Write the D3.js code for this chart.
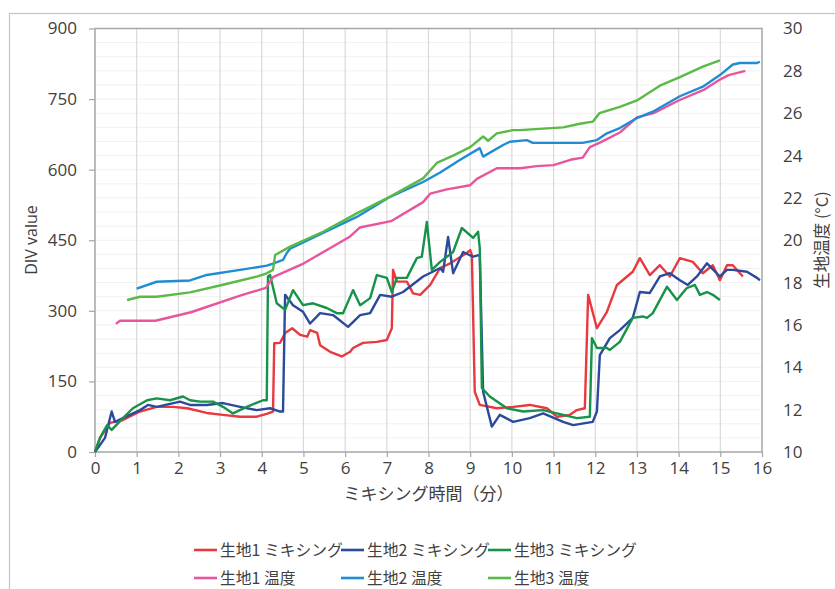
<!DOCTYPE html>
<html>
<head>
<meta charset="utf-8">
<script src="https://cdn.jsdelivr.net/npm/d3@7"></script>
<style>
  body { margin: 0; background: #fff; }
  text { font-family: "Noto Sans CJK JP", "Noto Sans", sans-serif; fill: #404040; }
  .tick text, .latin { font-family: "Open Sans", "Noto Sans", sans-serif; }
</style>
</head>
<body>
<div id="chart"></div>
<script>
// time (min) / value pairs
const mix1 = [[0,0],[0.12,30],[0.36,62],[0.67,68],[1.08,86],[1.48,96],[1.87,96],[2.21,93],[2.68,83],[3.07,79],[3.48,75],[3.88,75],[4.12,81],[4.27,86],[4.3,231],[4.44,232],[4.56,253],[4.73,263],[4.92,249],[5.09,245],[5.16,259],[5.33,253],[5.40,227],[5.64,213],[5.92,203],[6.12,213],[6.19,221],[6.43,232],[6.76,234],[7.00,238],[7.12,263],[7.15,387],[7.24,362],[7.48,362],[7.63,337],[7.80,334],[8.04,355],[8.28,391],[8.52,401],[8.92,423],[9.00,429],[9.04,419],[9.11,128],[9.23,100],[9.64,93],[10.03,96],[10.43,100],[10.84,93],[11.08,75],[11.39,79],[11.56,89],[11.75,93],[11.83,334],[12.04,263],[12.28,298],[12.52,355],[12.90,383],[13.07,412],[13.31,376],[13.55,397],[13.79,373],[14.03,412],[14.34,404],[14.58,380],[14.82,397],[14.99,365],[15.16,397],[15.30,397],[15.54,373]];
const mix2 = [[0,0],[0.24,30],[0.40,86],[0.48,64],[0.67,72],[1.08,89],[1.27,100],[1.48,96],[2.04,107],[2.28,100],[2.68,100],[3.07,104],[3.48,96],[3.88,89],[4.20,93],[4.44,86],[4.51,86],[4.56,334],[4.75,312],[4.99,298],[5.16,273],[5.40,295],[5.71,291],[6.07,266],[6.36,291],[6.60,295],[6.84,334],[7.12,330],[7.39,340],[7.87,373],[8.28,391],[8.35,383],[8.47,457],[8.59,380],[8.83,425],[9.07,415],[9.23,419],[9.31,128],[9.52,54],[9.71,79],[10.03,64],[10.43,72],[10.75,82],[11.23,64],[11.47,57],[11.94,64],[12.04,86],[12.11,206],[12.35,242],[12.59,259],[12.90,285],[13.07,340],[13.31,338],[13.55,373],[13.79,380],[14.03,365],[14.22,355],[14.44,373],[14.68,401],[14.99,373],[15.16,387],[15.30,387],[15.64,383],[15.88,370],[15.95,365]];
const mix3 = [[0,0],[0.12,30],[0.29,57],[0.40,47],[0.67,72],[0.91,93],[1.25,110],[1.48,114],[1.80,110],[2.11,118],[2.28,110],[2.52,107],[2.83,107],[3.07,96],[3.31,82],[3.64,96],[4.03,110],[4.12,110],[4.15,373],[4.20,376],[4.36,316],[4.56,302],[4.75,344],[4.99,312],[5.23,316],[5.56,306],[5.80,295],[5.95,295],[6.19,344],[6.36,312],[6.60,327],[6.76,376],[7.00,370],[7.12,340],[7.24,370],[7.48,370],[7.72,412],[7.84,415],[7.96,489],[8.08,387],[8.28,404],[8.59,425],[8.80,476],[9.07,455],[9.19,468],[9.23,433],[9.28,136],[9.47,118],[9.88,93],[10.27,86],[10.75,89],[11.23,79],[11.56,72],[11.87,75],[11.92,242],[12.04,221],[12.28,221],[12.35,217],[12.59,234],[12.90,285],[13.14,288],[13.24,285],[13.38,295],[13.72,351],[13.96,323],[14.19,348],[14.39,355],[14.51,334],[14.68,340],[14.82,334],[14.99,323]];
const temp1 = [[0.5,16.05],[0.6,16.2],[1.45,16.2],[2.3,16.6],[3.5,17.4],[4.1,17.75],[4.27,18.26],[5.0,18.9],[6.1,20.15],[6.35,20.6],[7.1,20.9],[7.87,21.8],[8.04,22.2],[8.44,22.4],[9.0,22.6],[9.16,22.9],[9.64,23.4],[10.2,23.4],[10.6,23.5],[11.0,23.55],[11.4,23.8],[11.7,23.9],[11.87,24.4],[12.1,24.6],[12.6,25.1],[13.0,25.8],[13.4,26.0],[14.0,26.6],[14.6,27.1],[15.0,27.6],[15.2,27.8],[15.6,28.0]];
const temp2 = [[1.0,17.72],[1.48,18.04],[2.28,18.1],[2.68,18.36],[3.48,18.6],[4.12,18.8],[4.27,18.9],[4.51,19.07],[4.6,19.4],[4.68,19.6],[5.47,20.35],[6.28,21.1],[7.08,22.05],[7.87,22.75],[8.28,23.2],[8.76,23.8],[9.23,24.35],[9.31,23.95],[9.79,24.5],[9.95,24.65],[10.36,24.73],[10.5,24.6],[11.7,24.6],[12.04,24.73],[12.28,25.05],[12.59,25.3],[13.0,25.77],[13.38,26.07],[14.03,26.8],[14.58,27.25],[14.99,27.8],[15.3,28.3],[15.47,28.37],[15.88,28.37],[15.95,28.43]];
const temp3 = [[0.77,17.18],[1.08,17.33],[1.48,17.33],[2.28,17.54],[3.07,17.9],[3.88,18.28],[4.12,18.44],[4.27,18.6],[4.32,19.3],[4.68,19.7],[5.47,20.4],[6.28,21.27],[7.08,22.06],[7.87,22.92],[8.2,23.65],[8.59,24.0],[9.0,24.4],[9.31,24.9],[9.43,24.7],[9.64,25.05],[10.03,25.2],[10.19,25.2],[11.23,25.33],[11.63,25.5],[11.94,25.6],[12.1,26.0],[12.59,26.3],[13.0,26.6],[13.55,27.3],[14.03,27.7],[14.58,28.2],[14.99,28.5]];

const xTicks = d3.range(0, 17);
const divTicks = [0, 150, 300, 450, 600, 750, 900];
const tempTicks = [10, 12, 14, 16, 18, 20, 22, 24, 26, 28, 30];

const series = [
  { name: "生地1 ミキシング", data: mix1, axis: "L", color: "#e8393f" },
  { name: "生地2 ミキシング", data: mix2, axis: "L", color: "#2b4a9c" },
  { name: "生地3 ミキシング", data: mix3, axis: "L", color: "#17924a" },
  { name: "生地1 温度", data: temp1, axis: "R", color: "#e8559c" },
  { name: "生地2 温度", data: temp2, axis: "R", color: "#1f8cd4" },
  { name: "生地3 温度", data: temp3, axis: "R", color: "#5ab947" }
];

const W = 835, H = 589;
const margin = { top: 28.5, right: 73, bottom: 137, left: 95 };
const width = W - margin.left - margin.right;
const height = H - margin.top - margin.bottom;

const svg = d3.select("#chart").append("svg")
  .attr("width", W)
  .attr("height", H);

// outer frame
svg.append("rect")
  .attr("x", 9.5).attr("y", 13.5)
  .attr("width", 900).attr("height", 700)
  .attr("fill", "none").attr("stroke", "#c4c4c4").attr("stroke-width", 1.2);

const g = svg.append("g")
  .attr("transform", "translate(" + margin.left + "," + margin.top + ")");

const x = d3.scaleLinear().domain([0, 16]).range([0, width]);
const yL = d3.scaleLinear().domain([0, 900]).range([height, 0]);
const yR = d3.scaleLinear().domain([10, 30]).range([height, 0]);

// faint horizontal grid
g.append("g")
  .selectAll("line")
  .data(d3.range(30, 900, 30))
  .enter().append("line")
  .attr("x1", 0).attr("x2", width)
  .attr("y1", d => yL(d)).attr("y2", d => yL(d))
  .attr("stroke", "#f1f1f1").attr("stroke-width", 1);

// vertical grid
g.append("g")
  .selectAll("line")
  .data(xTicks.slice(1, -1))
  .enter().append("line")
  .attr("x1", d => x(d)).attr("x2", d => x(d))
  .attr("y1", 0).attr("y2", height)
  .attr("stroke", "#d9d9d9").attr("stroke-width", 1.2);

// plot frame
g.append("rect")
  .attr("width", width).attr("height", height)
  .attr("fill", "none").attr("stroke", "#a6a6a6").attr("stroke-width", 1.5);

// axes
const axL = g.append("g")
  .call(d3.axisLeft(yL).tickValues(divTicks).tickSize(6).tickPadding(12));
const axR = g.append("g")
  .attr("transform", "translate(" + width + ",0)")
  .call(d3.axisRight(yR).tickValues(tempTicks).tickSize(0).tickPadding(21));
const axB = g.append("g")
  .attr("transform", "translate(0," + height + ")")
  .call(d3.axisBottom(x).tickValues(xTicks).tickSize(5).tickPadding(5));

[axL, axR, axB].forEach(ax => {
  ax.select(".domain").remove();
  ax.selectAll(".tick line").attr("stroke", "#a6a6a6").attr("stroke-width", 1.2);
  ax.selectAll(".tick text").style("font-size", "17px").attr("fill", "#404040");
});

// lines
const lineL = d3.line().x(d => x(d[0])).y(d => yL(d[1]));
const lineR = d3.line().x(d => x(d[0])).y(d => yR(d[1]));

series.forEach(s => {
  g.append("path")
    .datum(s.data)
    .attr("fill", "none")
    .attr("stroke", s.color)
    .attr("stroke-width", 2.4)
    .attr("stroke-linejoin", "round")
    .attr("d", s.axis === "L" ? lineL : lineR);
});

// axis titles
svg.append("text")
  .attr("class", "latin")
  .attr("transform", "translate(37,240) rotate(-90)")
  .attr("text-anchor", "middle")
  .style("font-size", "16px")
  .text("DIV value");

svg.append("text")
  .attr("transform", "translate(828,240) rotate(-90)")
  .attr("text-anchor", "middle")
  .style("font-size", "16.5px")
  .text("生地温度 (°C)");

svg.append("text")
  .attr("x", margin.left + width / 2)
  .attr("y", 500)
  .attr("text-anchor", "middle")
  .style("font-size", "17px")
  .text("ミキシング時間（分）");

// legend
const legX = [194, 341, 488];
const legY = [550, 578];
series.forEach((s, i) => {
  const lx = legX[i % 3], ly = legY[Math.floor(i / 3)];
  svg.append("line")
    .attr("x1", lx).attr("x2", lx + 23)
    .attr("y1", ly).attr("y2", ly)
    .attr("stroke", s.color).attr("stroke-width", 2.6);
  svg.append("text")
    .attr("x", lx + 26)
    .attr("y", ly + 5.5)
    .style("font-size", "15.8px")
    .text(s.name);
});
</script>
</body>
</html>
